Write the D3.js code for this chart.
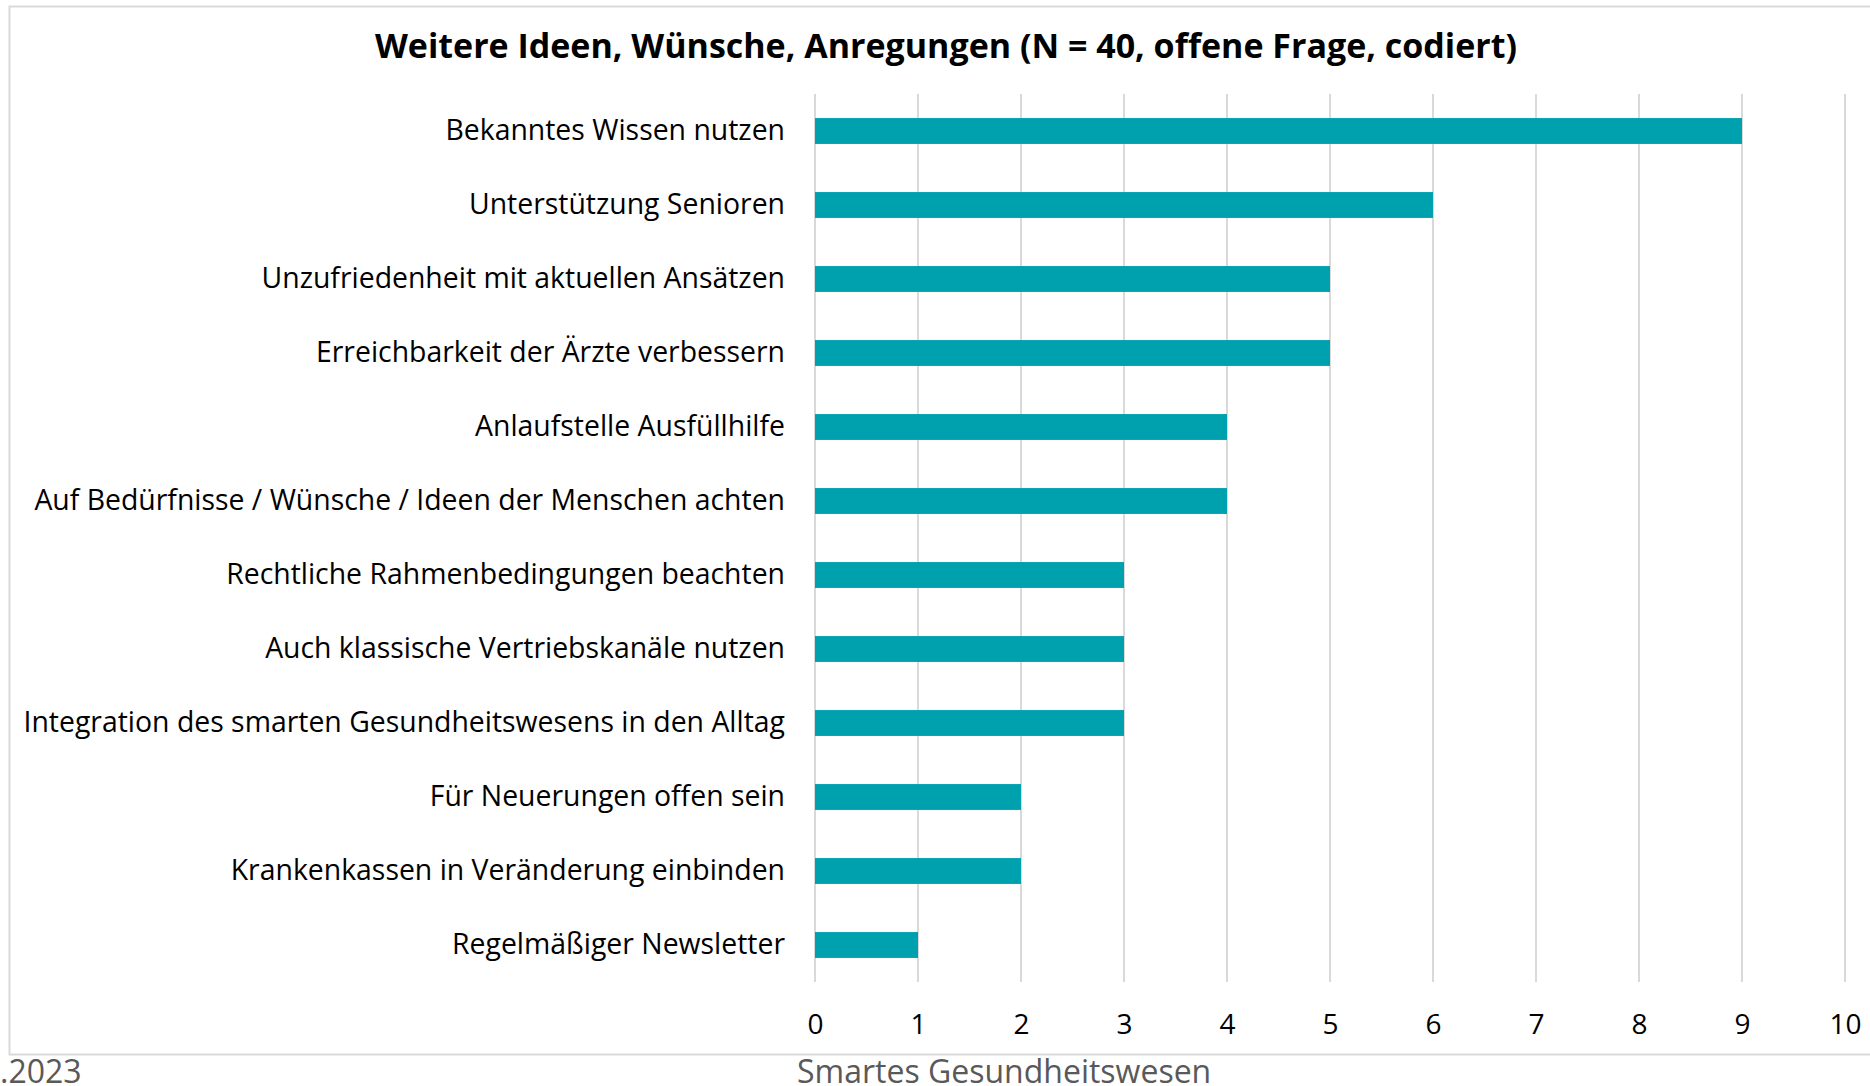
<!DOCTYPE html>
<html>
<head>
<meta charset="utf-8">
<script src="https://cdn.jsdelivr.net/npm/d3@7"></script>
<style>
  body { margin: 0; background: #fff; }
  text { font-family: "Open Sans", sans-serif; }
</style>
</head>
<body>
<script>
// categories, top to bottom
var categories = [
    "Bekanntes Wissen nutzen",
    "Unterstützung Senioren",
    "Unzufriedenheit mit aktuellen Ansätzen",
    "Erreichbarkeit der Ärzte verbessern",
    "Anlaufstelle Ausfüllhilfe",
    "Auf Bedürfnisse / Wünsche / Ideen der Menschen achten",
    "Rechtliche Rahmenbedingungen beachten",
    "Auch klassische Vertriebskanäle nutzen",
    "Integration des smarten Gesundheitswesens in den Alltag",
    "Für Neuerungen offen sein",
    "Krankenkassen in Veränderung einbinden",
    "Regelmäßiger Newsletter"
];
var counts = [9, 6, 5, 5, 4, 4, 3, 3, 3, 2, 2, 1];
var tickValues = [0, 1, 2, 3, 4, 5, 6, 7, 8, 9, 10];

var title = "Weitere Ideen, Wünsche, Anregungen (N = 40, offene Frage, codiert)";

window.onload = drawChart;

function drawChart(){
    var width = 1870,
        height = 1086;

    var svg = d3.select("body")
        .append("svg")
        .attr("width", width)
        .attr("height", height);

    // chart frame
    svg.append("rect")
        .attr("x", 9.5)
        .attr("y", 6.5)
        .attr("width", 1880)
        .attr("height", 1048)
        .attr("fill", "none")
        .attr("stroke", "#d9d9d9")
        .attr("stroke-width", 2);

    var x = d3.scaleLinear()
        .domain([0, 10])
        .range([815, 1845]);

    var y = d3.scaleBand()
        .domain(categories)
        .range([94, 982])
        .paddingInner(0.65)
        .paddingOuter(0.325);

    // vertical gridlines
    svg.append("g")
        .selectAll("line")
        .data(tickValues)
        .join("line")
        .attr("x1", d => x(d))
        .attr("x2", d => x(d))
        .attr("y1", 94)
        .attr("y2", 982)
        .attr("stroke", "#d9d9d9")
        .attr("stroke-width", 2);

    // bars
    svg.append("g")
        .selectAll("rect")
        .data(counts)
        .join("rect")
        .attr("x", x(0))
        .attr("y", (d, i) => y(categories[i]))
        .attr("width", d => x(d) - x(0))
        .attr("height", y.bandwidth())
        .attr("fill", "#00a1ae");

    // x axis labels
    var xAxis = d3.axisBottom(x)
        .tickValues(tickValues)
        .tickSize(0)
        .tickPadding(0);
    var gx = svg.append("g")
        .attr("transform", "translate(0,1014)")
        .call(xAxis);
    gx.select(".domain").remove();
    gx.selectAll("text")
        .attr("font-family", "Open Sans")
        .attr("font-size", 28)
        .attr("fill", "#000");

    // category labels
    var yAxis = d3.axisLeft(y)
        .tickSize(0)
        .tickPadding(0);
    var gy = svg.append("g")
        .attr("transform", "translate(785,0)")
        .call(yAxis);
    gy.select(".domain").remove();
    gy.selectAll("text")
        .attr("font-family", "Open Sans")
        .attr("font-size", 28.4)
        .attr("fill", "#000");

    // title
    svg.append("text")
        .attr("x", 946)
        .attr("y", 58)
        .attr("text-anchor", "middle")
        .attr("font-weight", "bold")
        .attr("font-size", 34)
        .text(title);

    // footer
    svg.append("text")
        .attr("x", 0)
        .attr("y", 1083)
        .attr("font-size", 32)
        .attr("fill", "#595959")
        .text(".2023");
    svg.append("text")
        .attr("x", 797)
        .attr("y", 1083)
        .attr("font-size", 32)
        .attr("fill", "#595959")
        .text("Smartes Gesundheitswesen");
}
</script>
</body>
</html>
